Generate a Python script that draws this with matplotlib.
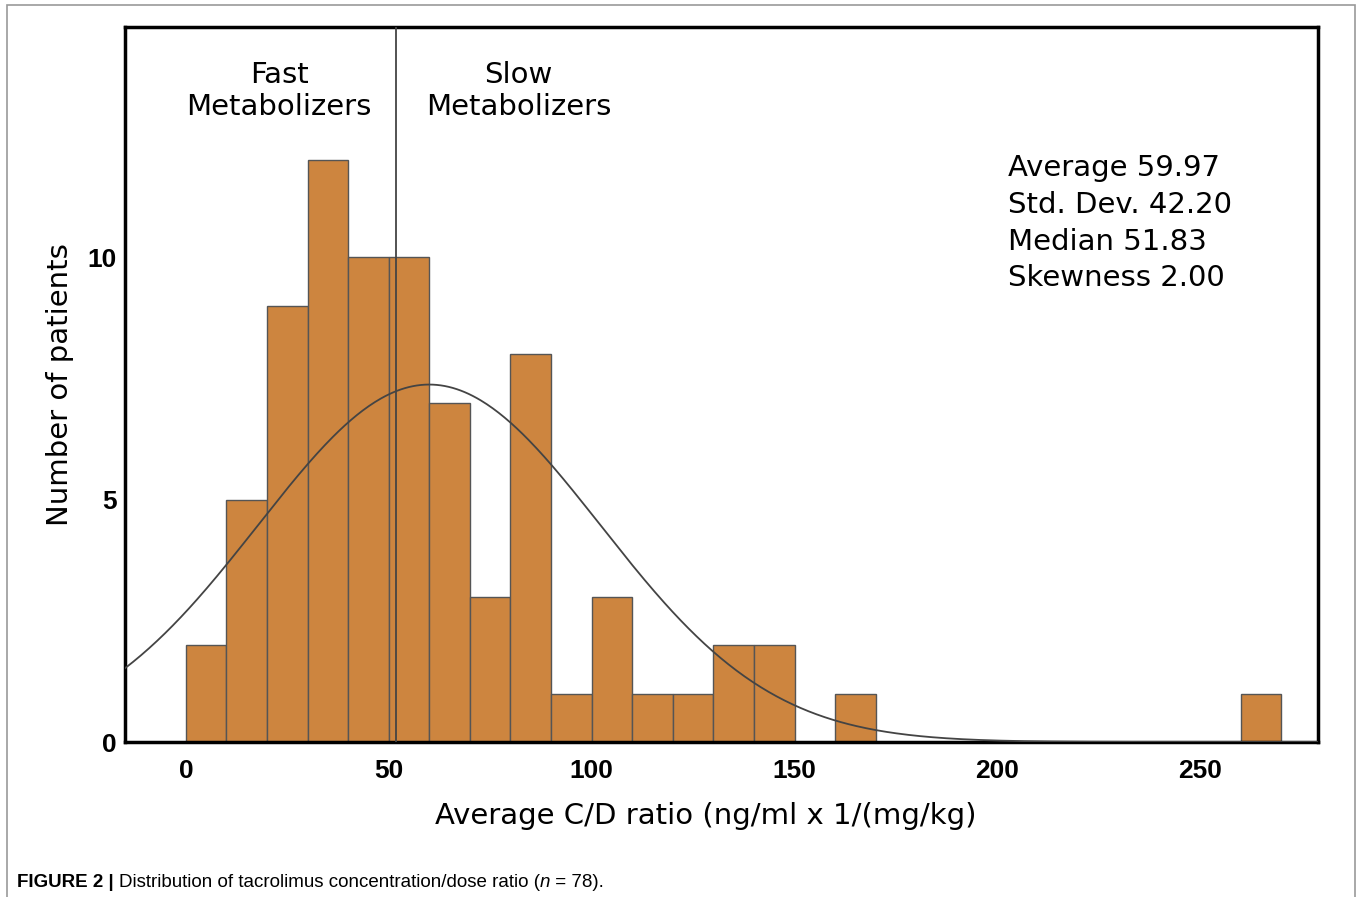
import matplotlib
matplotlib.use("Agg")
import matplotlib.pyplot as plt
from matplotlib.patches import Rectangle
import numpy as np

# histogram data (bin edges of width 10, counts)
bin_edges = np.arange(0, 280, 10)
counts = [2, 5, 9, 12, 10, 10, 7, 3, 8, 1, 3, 1, 1, 2, 2, 0, 1,
          0, 0, 0, 0, 0, 0, 0, 0, 0, 1]
n_total = 78
mean_val = 59.97
sd_val = 42.20
median_val = 51.83
skew_val = 2.00
x_ticks = [0, 50, 100, 150, 200, 250]
y_ticks = [0, 5, 10]

plt.rcParams['font.family'] = ['DejaVu Sans']

fig = plt.figure(figsize=(13.57, 8.97), dpi=100)
ax = fig.add_axes([125/1357, 1 - 742/897, (1318-125)/1357, (742-27)/897])

ax.bar(bin_edges[:-1], counts, width=10, align='edge',
       color='#cd853f', edgecolor='#555555', linewidth=1.0, zorder=2)

# fitted normal curve scaled to counts
xs = np.linspace(-15, 280, 600)
pdf = np.exp(-0.5 * ((xs - mean_val) / sd_val) ** 2) / (sd_val * np.sqrt(2 * np.pi))
ax.plot(xs, pdf * n_total * 10, color='#444444', lw=1.3, zorder=3)

ax.axvline(median_val, color='#444444', lw=1.3, zorder=3)

ax.set_xlim(-15, 279)
ax.set_ylim(0, 14.75)
ax.set_xticks(x_ticks)
ax.set_yticks(y_ticks)
ax.tick_params(axis='x', length=0, labelsize=19, pad=12)
ax.tick_params(axis='y', length=0, labelsize=19, pad=6)
for lab in ax.get_xticklabels() + ax.get_yticklabels():
    lab.set_fontweight('bold')
    lab.set_family(['Liberation Sans', 'DejaVu Sans'])
for s in ax.spines.values():
    s.set_linewidth(2.5)

ax.set_xlabel('Average C/D ratio (ng/ml x 1/(mg/kg)', fontsize=21)
ax.xaxis.set_label_coords(0.487, -0.084)
ax.set_ylabel('Number of patients', fontsize=21, labelpad=10)

ax.text(23, 13.43, 'Fast\nMetabolizers', ha='center', va='center',
        fontsize=21, linespacing=1.2)
ax.text(82, 13.43, 'Slow\nMetabolizers', ha='center', va='center',
        fontsize=21, linespacing=1.2)

stats = (f'Average {mean_val:.2f}\nStd. Dev. {sd_val:.2f}\n'
         f'Median {median_val:.2f}\nSkewness {skew_val:.2f}')
ax.text(202.5, 10.7, stats, ha='left', va='center', fontsize=21, linespacing=1.39)

# outer figure frame
fig.patches.append(Rectangle((7/1357, -0.01), (1355-7)/1357, 1.01 - 5/897,
                             transform=fig.transFigure, fill=False,
                             edgecolor='#999999', lw=1.2))

# caption
cap_font = ['Liberation Sans', 'DejaVu Sans']
cap_y = 1 - 882/897
t1 = fig.text(17/1357, cap_y, 'FIGURE 2 | ', fontsize=13.5, fontweight='bold',
              family=cap_font, va='center')
t2 = fig.text(0, 0, 'Distribution of tacrolimus concentration/dose ratio (',
              fontsize=13.5, family=cap_font, va='center')
fig.canvas.draw()
r = fig.canvas.get_renderer()
bb = t1.get_window_extent(r)
t2.set_position((bb.x1 / fig.bbox.width, cap_y))
bb2 = t2.get_window_extent(r)
t3 = fig.text(bb2.x1 / fig.bbox.width, cap_y, 'n', fontsize=13.5,
              family=cap_font, style='italic', va='center')
bb3 = t3.get_window_extent(r)
fig.text(bb3.x1 / fig.bbox.width, cap_y, ' = 78).', fontsize=13.5,
         family=cap_font, va='center')

fig.savefig('out.png', dpi=100)
